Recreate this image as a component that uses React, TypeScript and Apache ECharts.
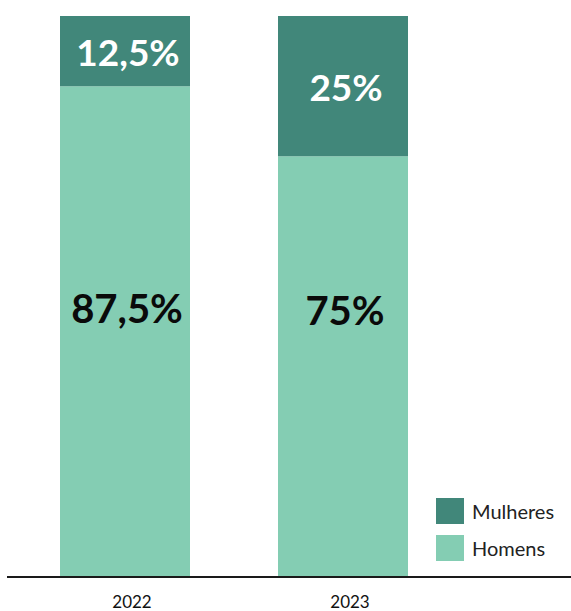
import React, { useEffect, useRef } from "react";
import * as echarts from "echarts";

const years = ["2022", "2023"];
const homens = [87.5, 75];
const mulheres = [12.5, 25];
const homensLabels = ["87,5%", "75%"];
const mulheresLabels = ["12,5%", "25%"];

const homensLabelOffsets = [-24, -57];

export default function App() {
  const ref = useRef<HTMLDivElement>(null);
  useEffect(() => {
    const chart = echarts.init(ref.current!, null, { renderer: "svg" });
    const font = "Lato, 'Open Sans', sans-serif";
    chart.setOption({
      animation: false,
      grid: { left: 16, right: 119, top: 16, bottom: 34 },
      legend: {
        orient: "vertical",
        left: 431,
        top: 493,
        itemWidth: 28,
        itemHeight: 26,
        itemGap: 11,
        icon: "rect",
        data: ["Mulheres", "Homens"],
        textStyle: { fontSize: 20, color: "#222", fontFamily: font, padding: [0, 0, 0, 3] },
        selectedMode: false,
      },
      xAxis: {
        type: "category",
        data: years,
        axisLine: { show: false },
        axisTick: { show: false },
        axisLabel: { fontSize: 17, color: "#111", fontFamily: font, margin: 16, padding: [0, 0, 0, 14] },
      },
      yAxis: {
        type: "value",
        min: 0,
        max: 100,
        show: false,
        splitLine: { show: false },
      },
      series: [
        {
          name: "Homens",
          type: "bar",
          stack: "total",
          barWidth: 130,
          itemStyle: { color: "#84CDB3" },
          data: homens.map((v, i) => ({
            value: v,
            label: {
              show: true,
              position: "inside",
              offset: [2, homensLabelOffsets[i]],
              formatter: homensLabels[i],
              fontSize: 40,
              fontWeight: "bold",
              color: "#0a0a0a",
              fontFamily: font,
            },
          })),
        },
        {
          name: "Mulheres",
          type: "bar",
          stack: "total",
          barWidth: 130,
          itemStyle: { color: "#41877A" },
          data: mulheres.map((v, i) => ({
            value: v,
            label: {
              show: true,
              position: "inside",
              offset: [3, 0],
              formatter: mulheresLabels[i],
              fontSize: 37,
              fontWeight: "bold",
              color: "#ffffff",
              fontFamily: font,
            },
          })),
        },
      ],
      graphic: [
        {
          type: "line",
          shape: { x1: 7, y1: 577, x2: 571, y2: 577 },
          style: { stroke: "#1a1a1a", lineWidth: 2 },
          z: 10,
        },
      ],
    });
    return () => chart.dispose();
  }, []);
  return <div ref={ref} style={{ width: 571, height: 611, position: "absolute", left: 0, top: 0 }} />;
}
